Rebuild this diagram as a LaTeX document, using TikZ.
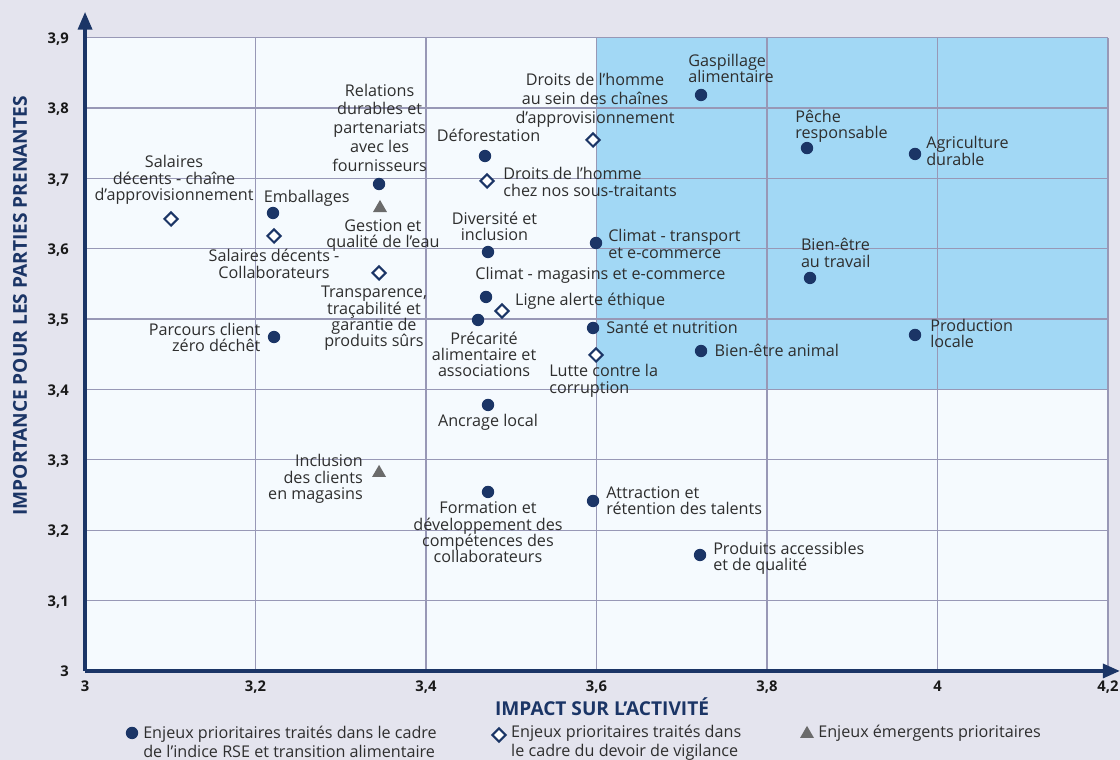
\documentclass[tikz,border=0pt]{standalone}
\usepackage{fontspec}
\setmainfont{Open Sans}
\usetikzlibrary{shapes.geometric, arrows.meta, positioning}
\definecolor{navy}{HTML}{1B3566}
\definecolor{fond}{HTML}{E4E4EE}
\definecolor{plotbg}{HTML}{F5FAFE}
\definecolor{zone}{HTML}{A2D8F5}
\definecolor{grille}{HTML}{9898B6}
\definecolor{gristri}{HTML}{6B6B6B}
\definecolor{texte}{HTML}{2E2E2E}
\tikzset{
rse/.style={circle, fill=navy, inner sep=0pt, minimum size=8.8pt},
vigil/.style={diamond, draw=navy, fill=white, line width=1.5pt, inner sep=0pt, minimum size=10pt},
emerg/.style={regular polygon, regular polygon sides=3, fill=gristri, inner sep=0pt, minimum size=11.5pt},
etiq/.style={font=\fontsize{11.5}{11.6}\selectfont, text=texte, inner sep=0pt, align=center},
etiqlarge/.style={etiq, font=\fontsize{11.5}{13.5}\selectfont},
tick/.style={font=\fontsize{10.5}{12}\selectfont\bfseries, text=black!90, inner sep=0pt},
titre/.style={font=\fontsize{13.6}{15}\selectfont\bfseries, text=navy, inner sep=0pt}
}
\begin{document}
\begin{tikzpicture}[x=21.3125cm, y=17.5925cm]
\useasboundingbox[fill=fond] (2.90029,2.87353) rectangle (4.21408,3.95353);
\fill[plotbg] (3,3) rectangle (4.2,3.9);
\fill[zone] (3.6,3.4) rectangle (4.2,3.9);
\foreach \x in {3.2,3.4,3.6,3.8,4,4.2}
  \draw[grille, line width=0.9pt] (\x,3) -- (\x,3.9);
\foreach \y in {3.1,3.2,3.3,3.4,3.5,3.6,3.7,3.8,3.9}
  \draw[grille, line width=0.9pt] (3,\y) -- (4.2,\y);
\draw[navy, line width=2.2pt, -{Triangle[length=12.5pt,width=10pt]}] (3,3) -- (3,3.9365);
\draw[navy, line width=2.2pt, -{Triangle[length=12pt,width=10pt]}] (3,3) -- (4.2138,3);

% graduations
\foreach \y [count=\i] in {3,3.1,3.2,3.3,3.4,3.5,3.6,3.7,3.8,3.9}
  \node[tick, anchor=base east, yshift=-4pt] (gy\i) at (2.9812,\y) {\pgfmathprintnumber[use comma, assume math mode=true]{\y}};
\foreach \x [count=\i] in {3,3.2,3.4,3.6,3.8,4,4.2}
  \node[tick, anchor=base] (gx\i) at (\x,2.97016) {\pgfmathprintnumber[use comma, assume math mode=true]{\x}};
\node[titre] (titrex) at (3.6065,2.9488) {IMPACT SUR L’ACTIVITÉ};
\node[titre, rotate=90] (titrey) at (2.92375,3.5187) {IMPORTANCE POUR LES PARTIES PRENANTES};

% enjeux
\node[rse] (gaspi) at (3.7226,3.8185) {};
\node[etiq, anchor=base west, align=left, xshift=-9.2pt, yshift=9pt] (gaspiT) at (gaspi) {Gaspillage\\alimentaire};
\node[rse] (peche) at (3.8469,3.7431) {};
\node[etiq, anchor=base west, align=left, xshift=-8.5pt, yshift=6.9pt] (pecheT) at (peche) {Pêche\\responsable};
\node[rse] (agri) at (3.9736,3.7347) {};
\node[etiq, anchor=base west, align=left, xshift=7.8pt, yshift=-8pt] (agriT) at (agri) {Agriculture\\durable};
\node[rse] (defor) at (3.4692,3.7318) {};
\node[etiq, anchor=base, xshift=2.5pt, yshift=10pt] (deforT) at (defor) {Déforestation};
\node[rse] (relat) at (3.3449,3.6920) {};
\node[etiqlarge, anchor=base, xshift=0.4pt, yshift=8.6pt] (relatT) at (relat) {Relations\\durables et\\partenariats\\avec les\\fournisseurs};
\node[rse] (emball) at (3.2205,3.6508) {};
\node[etiq, anchor=base, xshift=24pt, yshift=7.8pt] (emballT) at (emball) {Emballages};
\node[vigil] (salchain) at (3.1009,3.6423) {};
\node[etiq, anchor=base, xshift=2.1pt, yshift=13.1pt] (salchainT) at (salchain) {Salaires\\décents - chaîne\\d’approvisionnement};
\node[vigil] (salcollab) at (3.2217,3.6182) {};
\node[etiq, anchor=base, yshift=-30.1pt] (salcollabT) at (salcollab) {Salaires décents -\\Collaborateurs};
\node[emerg] (gestion) at (3.3460,3.6579) {};
\node[etiq, anchor=base, xshift=2.1pt, yshift=-28pt] (gestionT) at (gestion) {Gestion et\\qualité de l’eau};
\node[vigil] (droitsein) at (3.5959,3.7546) {};
\node[etiqlarge, anchor=base, xshift=1.4pt, yshift=11.4pt] (droitseinT) at (droitsein) {Droits de l’homme\\au sein des chaînes\\d’approvisionnement};
\node[vigil] (droitsous) at (3.4716,3.6963) {};
\node[etiq, anchor=base west, align=left, xshift=11.4pt, yshift=-10.9pt] (droitsousT) at (droitsous) {Droits de l’homme\\chez nos sous-traitants};
\node[rse] (divers) at (3.4727,3.5954) {};
\node[etiq, anchor=base, xshift=4.6pt, yshift=8.3pt] (diversT) at (divers) {Diversité et\\inclusion};
\node[rse] (climtrans) at (3.5994,3.6082) {};
\node[etiq, anchor=base west, align=left, xshift=8.5pt, yshift=-10.9pt] (climtransT) at (climtrans) {Climat - transport\\et e-commerce};
\node[rse] (climmag) at (3.4704,3.5315) {};
\node[etiq, anchor=base west, xshift=-7.8pt, yshift=12.1pt] (climmagT) at (climmag) {Climat - magasins et e-commerce};
\node[vigil] (ligne) at (3.4891,3.5116) {};
\node[etiq, anchor=base west, xshift=9.2pt, yshift=3.6pt] (ligneT) at (ligne) {Ligne alerte éthique};
\node[rse] (precar) at (3.4610,3.4988) {};
\node[etiq, anchor=base, xshift=4.3pt, yshift=-40.3pt] (precarT) at (precar) {Précarité\\alimentaire et\\associations};
\node[vigil] (transp) at (3.3449,3.5656) {};
\node[etiq, anchor=base, xshift=-3.6pt, yshift=-52.6pt] (transpT) at (transp) {Transparence,\\traçabilité et\\garantie de\\produits sûrs};
\node[rse] (sante) at (3.5959,3.4874) {};
\node[etiq, anchor=base west, xshift=9.2pt, yshift=-3.6pt] (santeT) at (sante) {Santé et nutrition};
\node[vigil] (lutte) at (3.5994,3.4491) {};
\node[etiq, anchor=base west, align=left, xshift=-33.4pt, yshift=-27.2pt] (lutteT) at (lutte) {Lutte contre la\\corruption};
\node[rse] (bientrav) at (3.8504,3.5585) {};
\node[etiq, anchor=base west, align=left, xshift=-6.6pt, yshift=7.6pt] (bientravT) at (bientrav) {Bien-être\\au travail};
\node[rse] (prodloc) at (3.9736,3.4775) {};
\node[etiq, anchor=base west, align=left, xshift=10.7pt, yshift=-8.8pt] (prodlocT) at (prodloc) {Production\\locale};
\node[rse] (bienanim) at (3.7226,3.4547) {};
\node[etiq, anchor=base west, xshift=9.5pt, yshift=-3.6pt] (bienanimT) at (bienanim) {Bien-être animal};
\node[rse] (parcours) at (3.2217,3.4746) {};
\node[etiq, anchor=base east, align=right, xshift=-9.5pt, yshift=-10.2pt] (parcoursT) at (parcours) {Parcours client\\zéro déchêt};
\node[rse] (ancrage) at (3.4727,3.3780) {};
\node[etiq, anchor=base, yshift=-15.6pt] (ancrageT) at (ancrage) {Ancrage local};
\node[emerg] (inclus) at (3.3449,3.2814) {};
\node[etiq, anchor=base east, align=right, xshift=-11.4pt, yshift=-18.9pt] (inclusT) at (inclus) {Inclusion\\des clients\\en magasins};
\node[rse] (forma) at (3.4727,3.2544) {};
\node[etiq, anchor=base, yshift=-50.4pt] (formaT) at (forma) {Formation et\\développement des\\compétences des\\collaborateurs};
\node[rse] (attrac) at (3.5959,3.2416) {};
\node[etiq, anchor=base west, align=left, xshift=9.2pt, yshift=-9.5pt] (attracT) at (attrac) {Attraction et\\rétention des talents};
\node[rse] (produits) at (3.7214,3.1648) {};
\node[etiq, anchor=base west, align=left, xshift=9.2pt, yshift=-10.9pt] (produitsT) at (produits) {Produits accessibles\\et de qualité};

% legende
\node[rse] (legA) at (3.0551,2.9119) {};
\node[etiqlarge, anchor=base west, align=left, xshift=7.8pt, yshift=-17.1pt] (legAT) at (legA) {Enjeux prioritaires traités dans le cadre\\de l’indice RSE et transition alimentaire};
\node[vigil] (legB) at (3.4856,2.9091) {};
\node[etiqlarge, anchor=base west, align=left, xshift=8.5pt, yshift=-15.6pt] (legBT) at (legB) {Enjeux prioritaires traités dans\\le cadre du devoir de vigilance};
\node[emerg] (legC) at (3.8469,2.9105) {};
\node[etiq, anchor=base west, xshift=7.8pt, yshift=-2.8pt] (legCT) at (legC) {Enjeux émergents prioritaires};
\end{tikzpicture}
\end{document}
